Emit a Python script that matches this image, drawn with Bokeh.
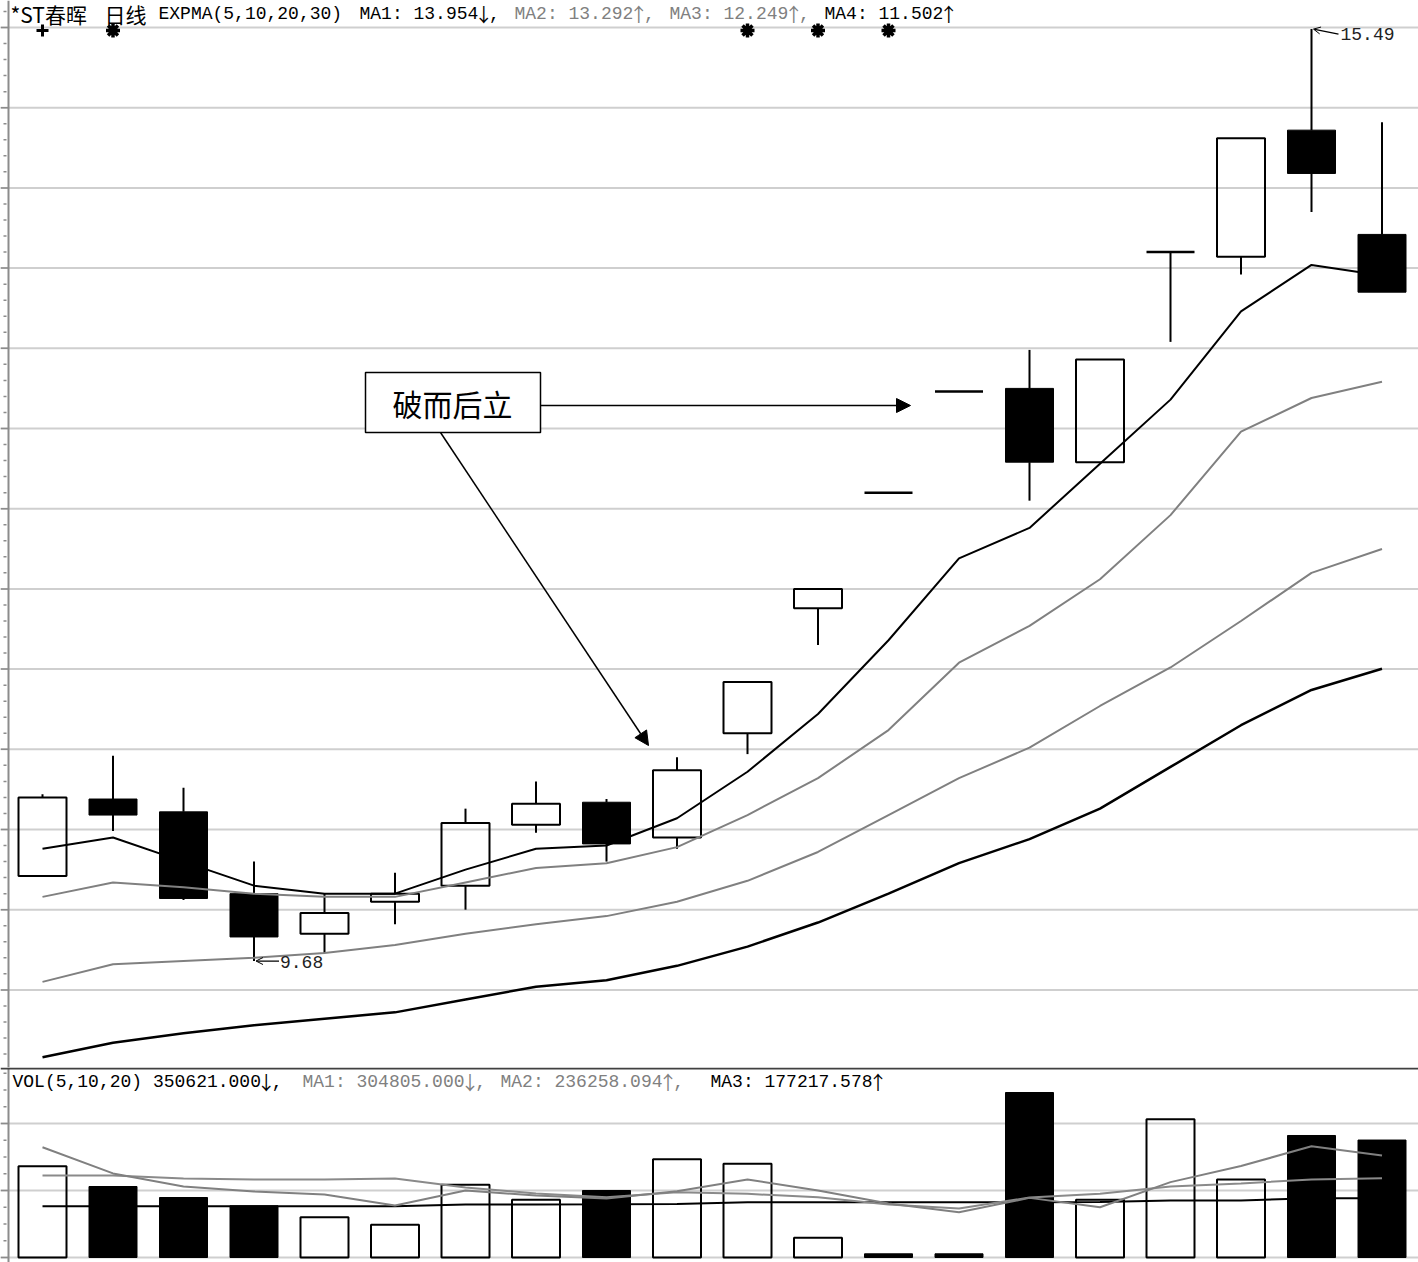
import numpy as np
from bokeh.plotting import figure
from bokeh.layouts import column
from bokeh.models import Span, Arrow, NormalHead, OpenHead
from bokeh.core.properties import value
from bokeh.embed import file_html
from bokeh.resources import INLINE

# ---------------- data ----------------
stock_name = "*ST春晖"
period_name = "日线"
opens  = [10.21, 10.69, 10.61, 10.10, 9.85, 10.05, 10.15, 10.53, 10.67, 10.45,
          11.10, 11.88, 12.60, 13.23, 13.25, 12.79, 14.10, 14.07, 14.86, 14.21]
highs  = [10.72, 10.96, 10.76, 10.30, 10.10, 10.23, 10.63, 10.80, 10.69, 10.95,
          11.42, 12.00, 12.60, 13.23, 13.49, 13.43, 14.10, 14.81, 15.49, 14.91]
lows   = [10.21, 10.49, 10.06, 9.68, 9.73, 9.91, 10.00, 10.48, 10.30, 10.38,
          10.97, 11.65, 12.60, 13.23, 12.55, 12.79, 13.54, 13.96, 14.35, 13.85]
closes = [10.70, 10.59, 10.07, 9.83, 9.98, 10.10, 10.54, 10.66, 10.41, 10.87,
          11.42, 12.00, 12.60, 13.23, 12.79, 13.43, 14.10, 14.81, 14.59, 13.85]

expma5  = [10.38, 10.45, 10.30, 10.15, 10.10, 10.10, 10.25, 10.38, 10.40, 10.57,
           10.86, 11.22, 11.68, 12.19, 12.38, 12.78, 13.18, 13.73, 14.02, 13.954]
expma10 = [10.08, 10.17, 10.14, 10.10, 10.08, 10.08, 10.17, 10.26, 10.29, 10.39,
           10.59, 10.82, 11.12, 11.54, 11.77, 12.06, 12.46, 12.98, 13.19, 13.292]
expma20 = [9.55, 9.66, 9.68, 9.70, 9.73, 9.78, 9.85, 9.91, 9.96, 10.05,
           10.18, 10.36, 10.59, 10.82, 11.01, 11.27, 11.51, 11.80, 12.10, 12.249]
expma30 = [9.08, 9.17, 9.23, 9.28, 9.32, 9.36, 9.44, 9.52, 9.56, 9.65,
           9.77, 9.92, 10.10, 10.29, 10.44, 10.63, 10.89, 11.15, 11.37, 11.502]

volumes = [272500, 211900, 179100, 154300, 120300, 97600, 217000, 172200, 200000, 293400,
           279700, 58800, 11000, 11000, 492500, 172200, 412800, 232800, 364200, 350621]
vol_black = [0, 1, 1, 1, 0, 0, 0, 0, 1, 0, 0, 0, 1, 1, 1, 0, 0, 0, 1, 1]
vol_ma5  = [329000, 251000, 212000, 197000, 188000, 155000, 200000, 185000, 176000, 198000,
            233000, 200000, 161000, 135000, 178000, 150000, 225000, 273000, 332000, 304805]
vol_ma10 = [245000, 245000, 236000, 233000, 233000, 236000, 209000, 191000, 180000, 195000,
            190000, 180000, 158000, 146000, 179000, 190000, 212000, 221000, 233000, 236258.094]
vol_ma20 = [153000, 153000, 153000, 153000, 153000, 153000, 158000, 158500, 159000, 160000,
            165000, 165000, 165000, 165000, 165000, 165500, 170000, 170000, 177000, 177217.578]

price_grid = [9.5, 10.0, 10.5, 11.0, 11.5, 12.0, 12.5, 13.0, 13.5, 14.0, 14.5, 15.0, 15.5]
price_minor_step = 0.1
vol_grid = [0, 200000, 400000]
vol_minor_step = 50000
plus_signal = [0]
star_signal = [1, 10, 11, 12]
note_text = "破而后立"

# ---------------- geometry helpers (page pixels -> data) ----------------
X0, DX = 42.0, 70.5           # page x of first candle, px per candle
PY0, PPX = 27.0, 160.4        # page y of 15.5, px per price unit
VB, VPX = 1257.0, 2985.0      # page y of volume 0, volume per px


def px2x(px):
    return (px - X0) / DX


def py2p(py):
    return 15.5 - (py - PY0) / PPX


def py2v(py):
    return (VB - py) * VPX


W = 1418
H1, H2 = 1067, 195
xr = (px2x(0), px2x(W))

GRID_C = "#cfcfcf"
GRAY = "#808080"
TICK_C = "#8c8c8c"
MONO = value("Liberation Mono")
CJK = value("Noto Sans CJK SC")
FS = 18
ADV = 0.6 * FS   # Liberation Mono advance

o = np.array(opens); c = np.array(closes); h = np.array(highs); l = np.array(lows)
idx = np.arange(len(o))
btop = np.maximum(o, c); bbot = np.minimum(o, c)
BW = 48 / DX


def arrow_of(a):
    return "↑" if a[-1] >= a[-2] else "↓"


def header_item(fig, xpx, y, label, arrow, tail, color):
    """label in mono font, a tall arrow glyph, then tail (comma)."""
    fig.text(x=[px2x(xpx)], y=[y], text=[label], text_font=MONO, text_font_size=value(f"{FS}px"),
             text_color=color, text_baseline="middle", text_align="left")
    ax = xpx + len(label) * ADV
    fig.text(x=[px2x(ax + ADV / 2)], y=[y], text=[arrow], text_font=CJK,
             text_font_size=value("19px"), text_color=color,
             text_baseline="middle", text_align="center")
    if tail:
        fig.text(x=[px2x(ax + ADV)], y=[y], text=[tail], text_font=MONO,
                 text_font_size=value(f"{FS}px"), text_color=color,
                 text_baseline="middle", text_align="left")


def left_ticks(fig, majors, step, lo, hi):
    """small scale ticks left of the axis line"""
    majors = np.array(majors, dtype=float)
    minors = np.arange(np.floor(lo / step) * step, hi + step, step)
    minors = np.array([m for m in minors if lo <= m <= hi
                       and np.min(np.abs(majors - m)) > step / 4])
    fig.segment(x0=[px2x(0)] * len(majors), x1=[px2x(8)] * len(majors), y0=majors, y1=majors,
                line_color=TICK_C, line_width=1.5)
    if len(minors):
        fig.segment(x0=[px2x(3)] * len(minors), x1=[px2x(6)] * len(minors), y0=minors, y1=minors,
                    line_color=TICK_C, line_width=1.5)


# ---------------- price panel ----------------
p = figure(width=W, height=H1, x_range=xr, y_range=(py2p(H1), py2p(0)),
           output_backend="svg", toolbar_location=None,
           x_axis_location=None, y_axis_location=None,
           min_border=0, min_border_left=0, min_border_right=0,
           min_border_top=0, min_border_bottom=0)
p.xgrid.visible = False
p.ygrid.visible = False
p.outline_line_color = None
p.background_fill_color = "white"

for g in price_grid:
    p.add_layout(Span(location=g, dimension="width", line_color=GRID_C, line_width=2,
                      level="underlay"))
p.add_layout(Span(location=px2x(8), dimension="height", line_color=TICK_C, line_width=2))
left_ticks(p, price_grid, price_minor_step, py2p(H1), py2p(0))

# wicks
up_w = h > btop
p.segment(x0=idx[up_w], y0=h[up_w], x1=idx[up_w], y1=btop[up_w], line_color="black", line_width=2)
dn_w = l < bbot
p.segment(x0=idx[dn_w], y0=bbot[dn_w], x1=idx[dn_w], y1=l[dn_w], line_color="black", line_width=2)

# bodies
hollow = c > o
solid = c < o
flat = c == o
p.vbar(x=idx[hollow], top=btop[hollow], bottom=bbot[hollow], width=BW,
       fill_alpha=0, line_color="black", line_width=2)
p.vbar(x=idx[solid], top=btop[solid], bottom=bbot[solid], width=BW,
       fill_color="black", line_color="black", line_width=1)
p.segment(x0=idx[flat] - BW / 2, y0=c[flat], x1=idx[flat] + BW / 2, y1=c[flat],
          line_color="black", line_width=2.5)

# EXPMA lines
p.line(idx, expma30, line_color="black", line_width=2.5)
p.line(idx, expma20, line_color=GRAY, line_width=2)
p.line(idx, expma10, line_color=GRAY, line_width=2)
p.line(idx, expma5, line_color="black", line_width=2)

# signal markers
my = py2p(30)
p.scatter(x=plus_signal, y=[my] * len(plus_signal), marker="cross", size=12,
          line_color="black", line_width=3)
p.scatter(x=star_signal, y=[my] * len(star_signal), marker="asterisk", size=14,
          line_color="black", line_width=3.5)
p.scatter(x=star_signal, y=[my] * len(star_signal), marker="circle", size=7,
          fill_color="black", line_color="black")

# header
hy = py2p(13)
p.text(x=[px2x(10)], y=[hy], text=[stock_name], text_font=CJK, text_font_size=value("21px"),
       text_color="black", text_baseline="middle", text_align="left")
p.text(x=[px2x(104)], y=[hy], text=[period_name], text_font=CJK, text_font_size=value("21px"),
       text_color="black", text_baseline="middle", text_align="left")
p.text(x=[px2x(158)], y=[hy], text=["EXPMA(5,10,20,30)"], text_font=MONO,
       text_font_size=value(f"{FS}px"), text_color="black", text_baseline="middle", text_align="left")
header_item(p, 359, hy, f"MA1: {expma5[-1]:.3f}", arrow_of(expma5), ",", "black")
header_item(p, 514, hy, f"MA2: {expma10[-1]:.3f}", arrow_of(expma10), ",", GRAY)
header_item(p, 669, hy, f"MA3: {expma20[-1]:.3f}", arrow_of(expma20), ",", GRAY)
header_item(p, 824, hy, f"MA4: {expma30[-1]:.3f}", arrow_of(expma30), "", "black")

# min / max labels
imin = int(np.argmin(l)); imax = int(np.argmax(h))
p.add_layout(Arrow(end=OpenHead(size=7, line_color="black", line_width=1),
                   x_start=imin + 25 / DX, y_start=l[imin], x_end=imin + 2 / DX, y_end=l[imin],
                   line_color="black", line_width=1.2))
p.text(x=[imin + 26 / DX], y=[l[imin] - 1 / PPX], text=[f"{l[imin]:.2f}"], text_font=MONO,
       text_font_size=value("18px"), text_color="#222222", text_baseline="middle", text_align="left")
p.add_layout(Arrow(end=OpenHead(size=7, line_color="black", line_width=1),
                   x_start=imax + 27 / DX, y_start=h[imax] - 5 / PPX, x_end=imax + 2 / DX, y_end=h[imax],
                   line_color="black", line_width=1.2))
p.text(x=[imax + 29 / DX], y=[h[imax] - 5 / PPX], text=[f"{h[imax]:.2f}"], text_font=MONO,
       text_font_size=value("18px"), text_color="#222222", text_baseline="middle", text_align="left")

# annotation box and arrows
p.add_layout(Arrow(end=NormalHead(size=14, fill_color="black", line_color="black"),
                   x_start=px2x(540), y_start=py2p(405), x_end=px2x(910), y_end=py2p(405),
                   line_color="black", line_width=1.5))
p.add_layout(Arrow(end=NormalHead(size=14, fill_color="black", line_color="black"),
                   x_start=px2x(440), y_start=py2p(432), x_end=px2x(648), y_end=py2p(745),
                   line_color="black", line_width=1.5))
p.quad(left=[px2x(365)], right=[px2x(540)], top=[py2p(372)], bottom=[py2p(432)],
       fill_color="white", line_color="black", line_width=1.5)
p.text(x=[px2x(452)], y=[py2p(402)], text=[note_text], text_font=CJK,
       text_font_size=value("30px"), text_color="black", text_baseline="middle", text_align="center")

# ---------------- volume panel ----------------
v = figure(width=W, height=H2, x_range=p.x_range, y_range=(py2v(H1 + H2), py2v(H1)),
           output_backend="svg", toolbar_location=None,
           x_axis_location=None, y_axis_location=None,
           min_border=0, min_border_left=0, min_border_right=0,
           min_border_top=0, min_border_bottom=0)
v.xgrid.visible = False
v.ygrid.visible = False
v.outline_line_color = None
for g in vol_grid:
    v.add_layout(Span(location=g, dimension="width", line_color=GRID_C, line_width=2,
                      level="underlay"))
v.add_layout(Span(location=px2x(8), dimension="height", line_color=TICK_C, line_width=2))
v.add_layout(Span(location=py2v(H1 + 1), dimension="width", line_color="#404040", line_width=2))
left_ticks(v, vol_grid, vol_minor_step, 0, py2v(H1 + 4))

vol = np.array(volumes); vb = np.array(vol_black) == 1
v.vbar(x=idx[~vb], top=vol[~vb], bottom=0, width=BW, fill_alpha=0,
       line_color="black", line_width=2)
v.vbar(x=idx[vb], top=vol[vb], bottom=0, width=BW, fill_color="black",
       line_color="black", line_width=1)
v.line(idx, vol_ma20, line_color="black", line_width=2)
v.line(idx, vol_ma10, line_color="#8a8a8a", line_width=2)
v.line(idx, vol_ma5, line_color=GRAY, line_width=2)

vy = py2v(1081)
header_item(v, 12, vy, f"VOL(5,10,20) {volumes[-1]:.3f}", arrow_of(volumes), ",", "black")
header_item(v, 302, vy, f"MA1: {vol_ma5[-1]:.3f}", arrow_of(vol_ma5), ",", GRAY)
header_item(v, 500, vy, f"MA2: {vol_ma10[-1]:.3f}", arrow_of(vol_ma10), ",", GRAY)
header_item(v, 710, vy, f"MA3: {vol_ma20[-1]:.3f}", arrow_of(vol_ma20), "", "black")

layout = column(p, v, spacing=0)
open("out.html", "w").write(file_html(layout, INLINE))
